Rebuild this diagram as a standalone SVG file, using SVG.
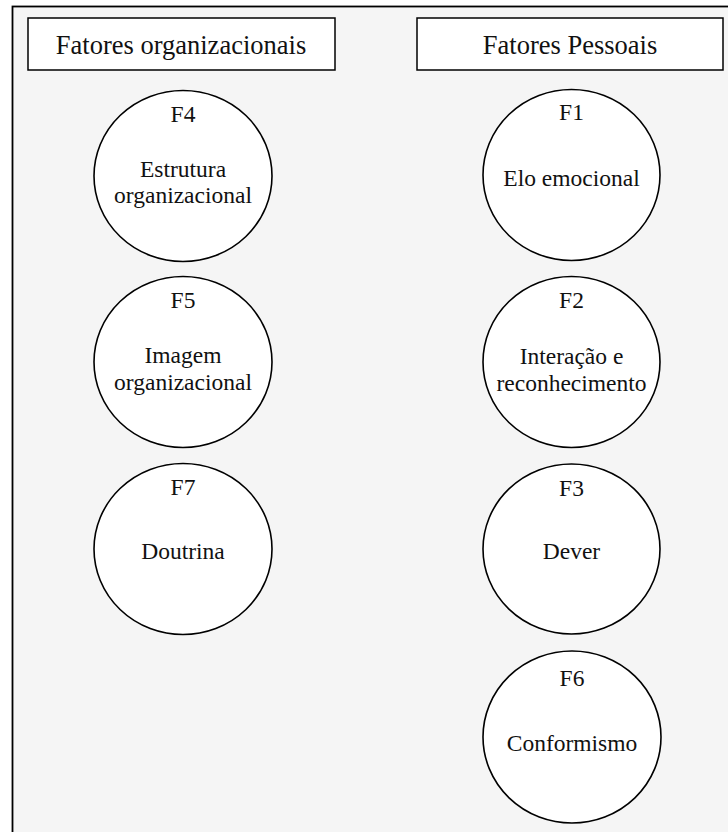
<svg xmlns="http://www.w3.org/2000/svg" width="728" height="832" viewBox="0 0 728 832">
  <style>
    .frame { fill: #f5f5f5; stroke: #000; stroke-width: 1.8; }
    .head { fill: #fff; stroke: #000; stroke-width: 1.5; }
    .node { fill: #fff; stroke: #000; stroke-width: 1.6; }
    text { font-family: "Liberation Serif", "Times New Roman", serif; fill: #111; text-anchor: middle; }
    .ht { font-size: 26.5px; }
    .nt { font-size: 23.5px; }
  </style>

  <rect x="0" y="0" width="728" height="832" fill="#fff"/>
  <!-- outer panel, open to the right and bottom edges -->
  <rect class="frame" x="12.5" y="6.5" width="730" height="840"/>

  <!-- column headings -->
  <g id="header-org">
    <rect class="head" x="28" y="18" width="307" height="52"/>
    <text class="ht" x="181" y="54">Fatores organizacionais</text>
  </g>
  <g id="header-pes">
    <rect class="head" x="417" y="18" width="306" height="52"/>
    <text class="ht" x="570" y="54">Fatores Pessoais</text>
  </g>

  <!-- no connectors in this figure -->
  <g id="connectors"/>

  <!-- organizational factors -->
  <g id="F4">
    <ellipse class="node" cx="183" cy="176" rx="89" ry="85.5"/>
    <text class="nt" x="183" y="122">F4</text>
    <text class="nt" x="183" y="177">Estrutura</text>
    <text class="nt" x="183" y="203">organizacional</text>
  </g>
  <g id="F5">
    <ellipse class="node" cx="183" cy="362" rx="89" ry="85.5"/>
    <text class="nt" x="183" y="308">F5</text>
    <text class="nt" x="183" y="363">Imagem</text>
    <text class="nt" x="183" y="390">organizacional</text>
  </g>
  <g id="F7">
    <ellipse class="node" cx="183" cy="549" rx="89" ry="85.5"/>
    <text class="nt" x="183" y="495">F7</text>
    <text class="nt" x="183" y="559">Doutrina</text>
  </g>

  <!-- personal factors -->
  <g id="F1">
    <ellipse class="node" cx="571.5" cy="175" rx="88.5" ry="85.5"/>
    <text class="nt" x="571.5" y="120">F1</text>
    <text class="nt" x="571.5" y="186">Elo emocional</text>
  </g>
  <g id="F2">
    <ellipse class="node" cx="571.5" cy="362" rx="88.5" ry="85.5"/>
    <text class="nt" x="571.5" y="308">F2</text>
    <text class="nt" x="571.5" y="364">Interação e</text>
    <text class="nt" x="571.5" y="391">reconhecimento</text>
  </g>
  <g id="F3">
    <ellipse class="node" cx="571.5" cy="549" rx="88.5" ry="85"/>
    <text class="nt" x="571.5" y="496">F3</text>
    <text class="nt" x="571.5" y="559">Dever</text>
  </g>
  <g id="F6">
    <ellipse class="node" cx="572" cy="737" rx="89" ry="86"/>
    <text class="nt" x="572" y="686">F6</text>
    <text class="nt" x="572" y="751">Conformismo</text>
  </g>
</svg>
